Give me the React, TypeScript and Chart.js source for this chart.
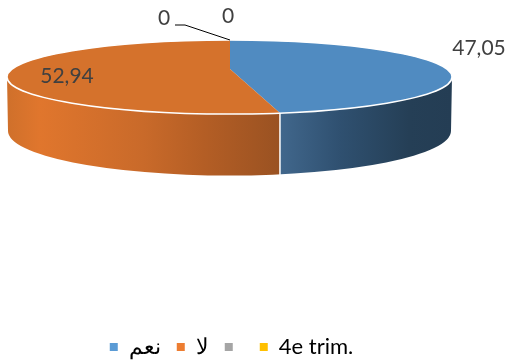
import React, { useEffect, useRef } from "react";
import { Chart, registerables } from "chart.js";

Chart.register(...registerables);

const categories = ["نعم", "لا", "", "4e trim."];
const shares = [47.05, 52.94, 0, 0];
const faceColors = ["#508bc1", "#d5722c", "#a5a5a5", "#ffc000"];
const legendColors = ["#5b9bd5", "#ed7d31", "#a5a5a5", "#ffc000"];
const blueWall = [
  [0, "#41678c"],
  [0.35, "#2f5070"],
  [0.75, "#253f56"],
  [1, "#243d54"],
];
const orangeWall = [
  [0, "#cf702b"],
  [0.12, "#e0762d"],
  [0.5, "#c96a2a"],
  [0.72, "#b45e25"],
  [1, "#9a5222"],
];

const FONT = "Lato, 'Noto Sans', sans-serif";

// Disc geometry in canvas pixels: the rim ellipse, the hub the wedges fan out
// from (set above the ellipse centre for a tilted view) and the lower rim.
const rim = { cx: 229.5, cy: 77, rx: 222.5, ry: 37 };
const hub = { x: 230, y: 69, squash: 0.165, reach: 300 };
const base = { cx: 229.5, cy: 131, rx: 221.5, ry: 44.5 };

// Where the ray leaving the hub at a chart angle meets the rim ellipse.
function rimPoint(angle: number) {
  const dx = Math.cos(angle);
  const dy = Math.sin(angle) * hub.squash;
  const ox = hub.x - rim.cx;
  const oy = hub.y - rim.cy;
  const a = (dx * dx) / (rim.rx * rim.rx) + (dy * dy) / (rim.ry * rim.ry);
  const b = 2 * ((ox * dx) / (rim.rx * rim.rx) + (oy * dy) / (rim.ry * rim.ry));
  const c = (ox * ox) / (rim.rx * rim.rx) + (oy * oy) / (rim.ry * rim.ry) - 1;
  const t = (-b + Math.sqrt(b * b - 4 * a * c)) / (2 * a);
  return { x: hub.x + dx * t, y: hub.y + dy * t };
}

function wallGradient(ctx: CanvasRenderingContext2D, x0: number, x1: number, stops: any[]) {
  const g = ctx.createLinearGradient(x0, 0, x1, 0);
  stops.forEach(([at, color]) => g.addColorStop(at, color));
  return g;
}

function wallPath(ctx: CanvasRenderingContext2D) {
  ctx.beginPath();
  ctx.moveTo(rim.cx - rim.rx, rim.cy);
  ctx.lineTo(base.cx - base.rx, base.cy);
  ctx.ellipse(base.cx, base.cy, base.rx, base.ry, 0, Math.PI, 0, true);
  ctx.lineTo(rim.cx + rim.rx, rim.cy);
  ctx.ellipse(rim.cx, rim.cy, rim.rx, rim.ry, 0, 0, Math.PI, false);
  ctx.closePath();
}

const discPlugin = {
  id: "disc",
  beforeDatasetDraw(chart: any) {
    const ctx: CanvasRenderingContext2D = chart.ctx;
    const arcs = chart.getDatasetMeta(0).data;
    const split = rimPoint(arcs[0].endAngle);

    // Side wall, split at the point where the first wedge ends.
    ctx.save();
    wallPath(ctx);
    ctx.clip();
    ctx.fillStyle = wallGradient(ctx, split.x, rim.cx + rim.rx, blueWall);
    ctx.fillRect(split.x, 0, 507, 360);
    ctx.fillStyle = wallGradient(ctx, rim.cx - rim.rx, split.x, orangeWall);
    ctx.fillRect(0, 0, split.x, 360);
    ctx.restore();

    ctx.save();
    ctx.strokeStyle = "#ffffff";
    ctx.lineWidth = 1.5;
    ctx.beginPath();
    ctx.moveTo(split.x, split.y);
    ctx.lineTo(split.x, 178);
    ctx.stroke();
    ctx.restore();

    // Top face: the library's own arcs, flattened and cut by the rim ellipse.
    ctx.save();
    ctx.beginPath();
    ctx.ellipse(rim.cx, rim.cy, rim.rx, rim.ry, 0, 0, Math.PI * 2);
    ctx.clip();
    const scale = hub.reach / arcs[0].outerRadius;
    ctx.translate(hub.x, hub.y);
    ctx.scale(scale, scale * hub.squash);
    ctx.translate(-arcs[0].x, -arcs[0].y);
  },
  afterDatasetDraw(chart: any) {
    const ctx: CanvasRenderingContext2D = chart.ctx;
    ctx.restore();
    ctx.save();
    ctx.strokeStyle = "#ffffff";
    ctx.lineWidth = 1.5;
    ctx.beginPath();
    ctx.ellipse(rim.cx, rim.cy, rim.rx, rim.ry, 0, 0, Math.PI * 2);
    ctx.stroke();
    ctx.restore();
  },
  afterDraw(chart: any) {
    const ctx: CanvasRenderingContext2D = chart.ctx;
    const fmt = (v: number) => (v === 0 ? "0" : v.toFixed(2).replace(".", ","));
    const anchors = [
      [479, 48],
      [67, 76],
      [164, 18],
      [228, 16],
    ];
    ctx.save();
    // Leader from the stacked zero wedges to their outer label.
    ctx.strokeStyle = "#000000";
    ctx.lineWidth = 1;
    ctx.beginPath();
    ctx.moveTo(175, 25);
    ctx.lineTo(185, 25);
    ctx.lineTo(230, 40);
    ctx.stroke();
    ctx.fillStyle = "#404040";
    ctx.font = `21px ${FONT}`;
    ctx.textAlign = "center";
    ctx.textBaseline = "middle";
    shares.forEach((v, i) => ctx.fillText(fmt(v), anchors[i][0], anchors[i][1]));
    ctx.restore();
  },
};

export default function App() {
  const ref = useRef<HTMLCanvasElement>(null);
  useEffect(() => {
    const chart = new Chart(ref.current!, {
      type: "pie",
      data: {
        labels: categories,
        datasets: [
          {
            data: shares,
            backgroundColor: faceColors,
            borderWidth: 0,
            clip: false,
          } as any,
        ],
      },
      options: {
        responsive: false,
        animation: false,
        rotation: 0,
        layout: { padding: { bottom: -8, right: 44 } },
        plugins: {
          tooltip: { enabled: false },
          legend: {
            position: "bottom",
            labels: {
              boxWidth: 8,
              boxHeight: 8,
              padding: 16,
              color: "#595959",
              font: { family: FONT, size: 22 },
              generateLabels: () =>
                categories.map((text, i) => ({
                  text,
                  fillStyle: legendColors[i],
                  strokeStyle: legendColors[i],
                  lineWidth: 0,
                  index: i,
                })),
            },
          },
        },
      },
      plugins: [discPlugin],
    });
    return () => chart.destroy();
  }, []);
  return (
    <div style={{ position: "absolute", left: 0, top: 0, width: 507, height: 360, background: "#fff" }}>
      <canvas ref={ref} width={507} height={360} style={{ display: "block" }} />
    </div>
  );
}
